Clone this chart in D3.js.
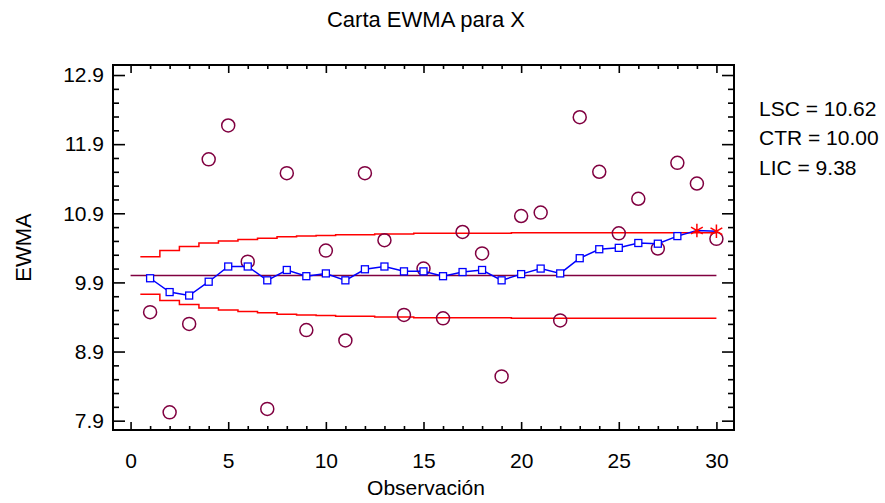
<!DOCTYPE html>
<html lang="es">
<head>
<meta charset="UTF-8">
<title>Carta EWMA para X</title>
<script src="https://d3js.org/d3.v7.min.js"></script>
<style>
  body { margin: 0; background: #fff; }
  svg text { font-family: Arial, "Liberation Sans", sans-serif; fill: #000; }
</style>
</head>
<body>
<div class="canvas"></div>
<script>
  const observaciones = [1, 2, 3, 4, 5, 6, 7, 8, 9, 10, 11, 12, 13, 14, 15,
    16, 17, 18, 19, 20, 21, 22, 23, 24, 25, 26, 27, 28, 29, 30]
  const valores = [9.47, 8.02, 9.30, 11.68, 12.17, 10.20, 8.07, 11.48, 9.21, 10.36,
    9.06, 11.48, 10.51, 9.43, 10.10, 9.38, 10.63, 10.32, 8.54, 10.86,
    10.91, 9.35, 12.29, 11.50, 10.61, 11.11, 10.39, 11.63, 11.33, 10.53]
  const ewma = [9.96, 9.76, 9.71, 9.91, 10.13, 10.13, 9.93, 10.08, 9.99, 10.03,
    9.93, 10.09, 10.13, 10.06, 10.06, 9.99, 10.05, 10.08, 9.93, 10.02,
    10.10, 10.03, 10.25, 10.38, 10.40, 10.47, 10.46, 10.57, 10.65, 10.64]
  const lsc = [10.27, 10.36, 10.42, 10.47, 10.50, 10.52, 10.54, 10.56, 10.57, 10.58,
    10.59, 10.59, 10.60, 10.60, 10.61, 10.61, 10.61, 10.61, 10.61, 10.62,
    10.62, 10.62, 10.62, 10.62, 10.62, 10.62, 10.62, 10.62, 10.62, 10.62]
  const lic = [9.73, 9.64, 9.58, 9.53, 9.50, 9.48, 9.46, 9.44, 9.43, 9.42,
    9.41, 9.41, 9.40, 9.40, 9.39, 9.39, 9.39, 9.39, 9.39, 9.38,
    9.38, 9.38, 9.38, 9.38, 9.38, 9.38, 9.38, 9.38, 9.38, 9.38]
  const ctr = 10.00
  const resumen = ['LSC = 10.62', 'CTR = 10.00', 'LIC = 9.38']
  const xTicks = [0, 5, 10, 15, 20, 25, 30]
  const yTicks = [7.9, 8.9, 9.9, 10.9, 11.9, 12.9]

  const width = 885
  const height = 503
  const [ml, mr, mt, mb] = [113, 151, 65, 73]
  const graphWidth = width - ml - mr
  const graphHeight = height - mt - mb

  const svg = d3.select('.canvas')
    .append('svg')
    .attr('width', width)
    .attr('height', height)

  const graph = svg.append('g')
    .attr('transform', `translate(${ml}, ${mt})`)

  const x = d3.scaleLinear()
    .domain([-0.9, 30.9])
    .range([0, graphWidth])

  const y = d3.scaleLinear()
    .domain([7.765, 13.045])
    .range([graphHeight, 0])

  const xMinor = d3.range(0, 31, 1).filter(d => d % 5 !== 0)
  const yMinor = d3.range(0, 26).map(i => +(7.9 + i * 0.2).toFixed(1))
    .filter(d => !yTicks.includes(d))

  // ejes: marcas hacia dentro en los cuatro lados
  function drawAxis(axisFn, scale, ticks, size, labels, transform) {
    const g = graph.append('g')
      .attr('transform', transform)
      .call(axisFn(scale).tickValues(ticks).tickSize(size)
        .tickPadding(labels ? (axisFn === d3.axisBottom ? 23 : 9) : 0)
        .tickFormat(labels ? d3.format('') : ''))
    g.select('.domain').remove()
    g.selectAll('line').attr('stroke', '#000').attr('stroke-width', 1.6)
    g.selectAll('text').style('font-size', '21px')
    return g
  }

  drawAxis(d3.axisBottom, x, xTicks, -8, true, `translate(0, ${graphHeight})`)
  drawAxis(d3.axisBottom, x, xMinor, -4, false, `translate(0, ${graphHeight})`)
  drawAxis(d3.axisTop, x, xTicks, -8, false, 'translate(0, 0)')
  drawAxis(d3.axisTop, x, xMinor, -4, false, 'translate(0, 0)')
  drawAxis(d3.axisLeft, y, yTicks, -12, true, 'translate(0, 0)')
  drawAxis(d3.axisLeft, y, yMinor, -6, false, 'translate(0, 0)')
  drawAxis(d3.axisRight, y, yTicks, -12, false, `translate(${graphWidth}, 0)`)
  drawAxis(d3.axisRight, y, yMinor, -6, false, `translate(${graphWidth}, 0)`)

  graph.append('rect')
    .attr('width', graphWidth)
    .attr('height', graphHeight)
    .attr('fill', 'none')
    .attr('stroke', '#000')
    .attr('stroke-width', 2)

  // limites escalonados
  const step = arr => observaciones.flatMap((o, i) => [
    [o - 0.5, arr[i]], [Math.min(o + 0.5, 30), arr[i]]
  ])
  const line = d3.line()
    .x(d => x(d[0]))
    .y(d => y(d[1]))

  graph.append('path')
    .attr('d', line([[0, ctr], [30, ctr]]))
    .attr('fill', 'none')
    .attr('stroke', '#800040')
    .attr('stroke-width', 1.5)

  ;[lsc, lic].forEach(arr => {
    graph.append('path')
      .attr('d', line(step(arr)))
      .attr('fill', 'none')
      .attr('stroke', '#ff0000')
      .attr('stroke-width', 1.5)
  })

  // observaciones
  graph.selectAll('circle.obs')
    .data(valores)
    .enter()
    .append('circle')
    .attr('class', 'obs')
    .attr('cx', (d, i) => x(observaciones[i]))
    .attr('cy', d => y(d))
    .attr('r', 6.5)
    .attr('fill', 'none')
    .attr('stroke', '#800040')
    .attr('stroke-width', 1.5)

  // linea EWMA
  const ewmaLine = d3.line()
    .x((d, i) => x(observaciones[i]))
    .y(d => y(d))

  graph.append('path')
    .attr('d', ewmaLine(ewma))
    .attr('fill', 'none')
    .attr('stroke', '#0000ff')
    .attr('stroke-width', 1.5)

  const fuera = (d, i) => d > lsc[i] || d < lic[i]

  graph.selectAll('rect.pt')
    .data(ewma.map((d, i) => ({ v: d, i })).filter(d => !fuera(d.v, d.i)))
    .enter()
    .append('rect')
    .attr('class', 'pt')
    .attr('x', d => x(observaciones[d.i]) - 3.5)
    .attr('y', d => y(d.v) - 3.5)
    .attr('width', 7)
    .attr('height', 7)
    .attr('fill', '#fff')
    .attr('stroke', '#0000ff')
    .attr('stroke-width', 1.3)

  graph.selectAll('path.star')
    .data(ewma.map((d, i) => ({ v: d, i })).filter(d => fuera(d.v, d.i)))
    .enter()
    .append('path')
    .attr('class', 'star')
    .attr('transform', d => `translate(${x(observaciones[d.i])}, ${y(d.v)})`)
    .attr('d', d3.symbol(d3.symbolAsterisk, 130))
    .attr('fill', 'none')
    .attr('stroke', '#ff0000')
    .attr('stroke-width', 1.5)

  // textos
  svg.append('text')
    .attr('x', 426)
    .attr('y', 27)
    .attr('text-anchor', 'middle')
    .style('font-size', '22px')
    .text('Carta EWMA para X')

  svg.append('text')
    .attr('x', 426)
    .attr('y', 495)
    .attr('text-anchor', 'middle')
    .style('font-size', '21px')
    .text('Observación')

  svg.append('text')
    .attr('transform', 'translate(31, 247.5) rotate(-90)')
    .attr('text-anchor', 'middle')
    .style('font-size', '22px')
    .text('EWMA')

  svg.selectAll('text.res')
    .data(resumen)
    .enter()
    .append('text')
    .attr('class', 'res')
    .attr('x', 759)
    .attr('y', (d, i) => 115.5 + i * 29.7)
    .style('font-size', '21px')
    .text(d => d)
</script>
</body>
</html>
